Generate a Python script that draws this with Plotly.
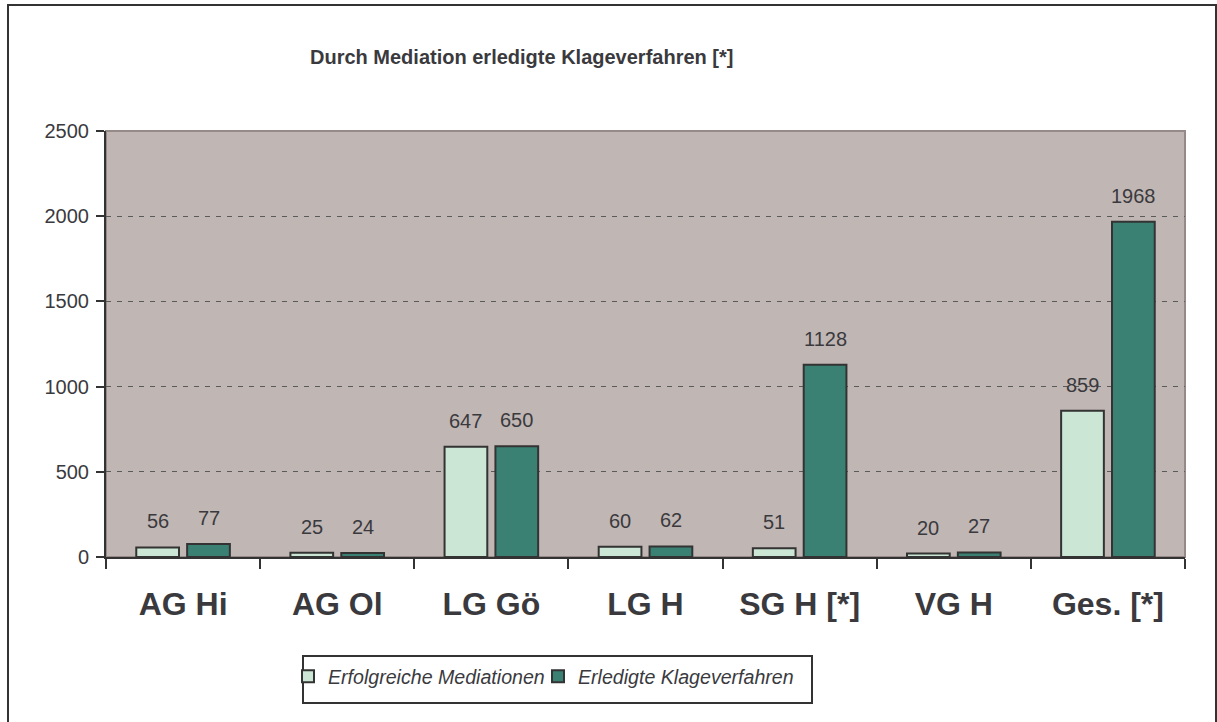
import plotly.graph_objects as go

categories = ["AG Hi", "AG Ol", "LG Gö", "LG H", "SG H [*]", "VG H", "Ges. [*]"]
erfolgreiche = [56, 25, 647, 60, 51, 20, 859]
erledigte = [77, 24, 650, 62, 1128, 27, 1968]
series_names = ["Erfolgreiche Mediationen", "Erledigte Klageverfahren"]
title_text = "Durch Mediation erledigte Klageverfahren [*]"
y_ticks = [0, 500, 1000, 1500, 2000, 2500]

W, H = 1217, 722
ML, MR, MT, MB = 106, 32, 131, 165
PW, PH = W - ML - MR, H - MT - MB
BARGAP, GROUPGAP = 0.34, 0.16
FONT = "Liberation Sans, Arial, sans-serif"
TXT = "#3a3a3e"

def px_x(p):
    return (p - ML) / PW

def px_y(p):
    return (H - MB - p) / PH

fig = go.Figure()
fig.add_trace(go.Bar(x=categories, y=erfolgreiche, name=series_names[0], legend="legend",
                     marker=dict(color="#cce6d6", line=dict(color="#333333", width=2))))
fig.add_trace(go.Bar(x=categories, y=erledigte, name=series_names[1], legend="legend2",
                     marker=dict(color="#3a8073", line=dict(color="#333333", width=2))))

# value labels
slot = PW / len(categories) * (1 - BARGAP) / 2
for vals, sgn in ((erfolgreiche, -1), (erledigte, 1)):
    for c, v in zip(categories, vals):
        fig.add_annotation(x=c, y=v, xref="x", yref="y", text=str(v), showarrow=False,
                           xshift=sgn * slot / 2, yanchor="bottom", yshift=13,
                           font=dict(family=FONT, size=20, color=TXT))

fig.add_annotation(x=px_x(521), y=px_y(57), xref="paper", yref="paper", text="<b>" + title_text + "</b>",
                   showarrow=False, xanchor="center", yanchor="middle",
                   font=dict(family=FONT, size=20, color=TXT))

# outer frame, plot border, legend box
fig.add_shape(type="rect", xref="paper", yref="paper", x0=px_x(8), x1=px_x(1216), y0=px_y(760), y1=px_y(5),
              line=dict(color="#333333", width=2))
fig.add_shape(type="rect", xref="paper", yref="paper", x0=0, x1=1, y0=0, y1=1,
              line=dict(color="#958a87", width=2), layer="below")
fig.add_shape(type="rect", xref="paper", yref="paper", x0=px_x(303), x1=px_x(812), y0=px_y(703), y1=px_y(656),
              line=dict(color="#333333", width=2))

legend_common = dict(orientation="h", xanchor="left", yanchor="top", borderwidth=0,
                     bgcolor="rgba(0,0,0,0)", itemwidth=30,
                     font=dict(family=FONT, size=19.6, color=TXT, style="italic"))
fig.update_layout(
    width=W, height=H,
    margin=dict(l=ML, r=MR, t=MT, b=MB, autoexpand=False),
    paper_bgcolor="white", plot_bgcolor="#c0b6b3",
    barmode="group", bargap=BARGAP, bargroupgap=GROUPGAP,
    showlegend=True,
    legend=dict(x=px_x(288), y=px_y(657), **legend_common),
    legend2=dict(x=px_x(538), y=px_y(657), **legend_common),
    font=dict(family=FONT, color=TXT),
)
fig.update_xaxes(showline=True, linecolor="#333333", linewidth=2, ticks="outside", tickson="boundaries",
                 ticklen=10, tickwidth=2, tickcolor="#333333", showgrid=False,
                 tickfont=dict(family=FONT, size=32, color=TXT, weight="bold"), ticklabelstandoff=18)
fig.update_yaxes(range=[0, 2500], tickvals=y_ticks, showline=True, linecolor="#333333", linewidth=2,
                 ticks="outside", ticklen=8, tickwidth=2, tickcolor="#333333",
                 showgrid=True, gridcolor="#5a5a5a", gridwidth=1, griddash="5px,6px",
                 zeroline=False, tickfont=dict(family=FONT, size=20, color=TXT), ticklabelstandoff=3)

fig.write_html("out.html", config={"displayModeBar": False},
               post_script="document.body.style.margin='0';")
